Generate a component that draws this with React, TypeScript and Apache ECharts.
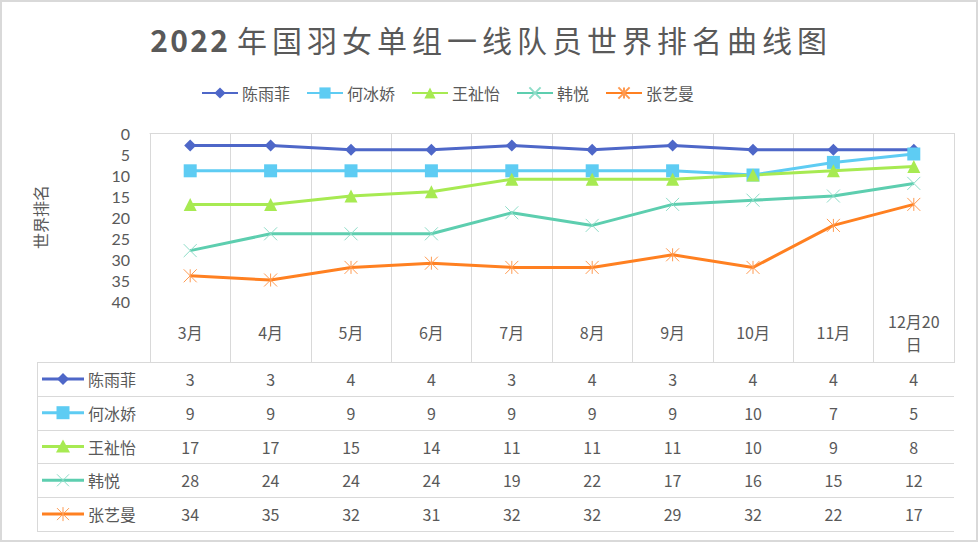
import React, { useEffect, useRef } from 'react';
import * as echarts from 'echarts';

const categories = ['3月', '4月', '5月', '6月', '7月', '8月', '9月', '10月', '11月', '12月20日'];
const seriesNames = ['陈雨菲', '何冰娇', '王祉怡', '韩悦', '张艺曼'];
const chenYufei = [3, 3, 4, 4, 3, 4, 3, 4, 4, 4];
const heBingjiao = [9, 9, 9, 9, 9, 9, 9, 10, 7, 5];
const wangZhiyi = [17, 17, 15, 14, 11, 11, 11, 10, 9, 8];
const hanYue = [28, 24, 24, 24, 19, 22, 17, 16, 15, 12];
const zhangYiman = [34, 35, 32, 31, 32, 32, 29, 32, 22, 17];
const yMin = 0;
const yMax = 40;
const yInterval = 5;
const titleText = '2022年国羽女单组一线队员世界排名曲线图';
const yAxisName = '世界排名';

const FONT = '"Noto Sans CJK SC", "Noto Sans", sans-serif';
const NUM_FONT = 'Lato, "Noto Sans", sans-serif';
const TEXT = '#595959';
const GRIDLINE = '#d9d9d9';

type Mk = 'diamond' | 'square' | 'triangle' | 'x' | 'star';
const styles: { color: string; mark: string; kind: Mk }[] = [
  { color: '#4E67C8', mark: '#4E67C8', kind: 'diamond' },
  { color: '#5ECCF3', mark: '#5ECCF3', kind: 'square' },
  { color: '#A7EA52', mark: '#A7EA52', kind: 'triangle' },
  { color: '#5DCEAF', mark: '#8EDDC8', kind: 'x' },
  { color: '#FF8021', mark: '#FF9A50', kind: 'star' },
];
const seriesData = [chenYufei, heBingjiao, wangZhiyi, hanYue, zhangYiman];

const GRID = { left: 150, top: 133, width: 804, height: 168 };
const TABLE_TOP = 362;
const ROW_H = 33.8;
const TABLE_LEFT = 37;

function symbolFor(kind: Mk) {
  switch (kind) {
    case 'diamond': return { symbol: 'diamond', symbolSize: 12 };
    case 'square': return { symbol: 'rect', symbolSize: 13 };
    case 'triangle': return { symbol: 'triangle', symbolSize: 13 };
    case 'x': return { symbol: 'path://M0,0L10,10M10,0L0,10', symbolSize: 13 };
    default: return { symbol: 'path://M0,0L10,10M10,0L0,10M5,0L5,10', symbolSize: 13 };
  }
}

function markerGraphic(kind: Mk, color: string, cx: number, cy: number) {
  const els: any[] = [];
  if (kind === 'diamond') {
    els.push({ type: 'polygon', shape: { points: [[cx - 6, cy], [cx, cy - 6], [cx + 6, cy], [cx, cy + 6]] }, style: { fill: color } });
  } else if (kind === 'square') {
    els.push({ type: 'rect', shape: { x: cx - 6.5, y: cy - 6.5, width: 13, height: 13 }, style: { fill: color } });
  } else if (kind === 'triangle') {
    els.push({ type: 'polygon', shape: { points: [[cx, cy - 7], [cx + 7, cy + 6], [cx - 7, cy + 6]] }, style: { fill: color } });
  } else {
    const r = 6;
    els.push({ type: 'line', shape: { x1: cx - r, y1: cy - r, x2: cx + r, y2: cy + r }, style: { stroke: color, lineWidth: 1 } });
    els.push({ type: 'line', shape: { x1: cx + r, y1: cy - r, x2: cx - r, y2: cy + r }, style: { stroke: color, lineWidth: 1 } });
    if (kind === 'star') {
      els.push({ type: 'line', shape: { x1: cx, y1: cy - r - 1, x2: cx, y2: cy + r + 1 }, style: { stroke: color, lineWidth: 1 } });
    }
  }
  return els;
}

export default function App() {
  const ref = useRef<HTMLDivElement>(null);
  useEffect(() => {
    if (!ref.current) return;
    const chart = echarts.init(ref.current, undefined, { renderer: 'svg' });
    const option: any = {
      animation: false,
      backgroundColor: '#ffffff',
      textStyle: { fontFamily: FONT },
      legend: {
        left: 201,
        top: 85,
        itemWidth: 36,
        itemHeight: 14,
        itemGap: 16,
        padding: 0,
        textStyle: { fontSize: 16, color: TEXT, fontFamily: FONT, padding: [0, 0, 0, -1] },
        data: seriesNames,
      },
      grid: { ...GRID },
      xAxis: {
        type: 'category',
        data: categories,
        boundaryGap: true,
        axisLine: { show: true, lineStyle: { color: GRIDLINE, width: 1 } },
        axisTick: { show: true, length: 230, interval: 0, lineStyle: { color: GRIDLINE, width: 1 } },
        splitLine: { show: true, interval: 0, lineStyle: { color: GRIDLINE, width: 1 } },
        axisLabel: {
          interval: 0,
          margin: 31,
          verticalAlign: 'middle',
          fontSize: 16,
          lineHeight: 23,
          color: TEXT,
          fontFamily: FONT,
          formatter: (v: string) => (v.length > 4 ? v.slice(0, 5) + '\n' + v.slice(5) : v),
        },
      },
      yAxis: {
        type: 'value',
        inverse: true,
        min: yMin,
        max: yMax,
        interval: yInterval,
        name: yAxisName,
        nameLocation: 'middle',
        nameRotate: 90,
        nameGap: 102,
        nameTextStyle: { fontSize: 16, color: TEXT, fontFamily: FONT },
        axisLine: { show: false },
        axisTick: { show: false },
        splitLine: { show: false },
        axisLabel: { margin: 20, fontSize: 16, lineHeight: 18, color: TEXT, fontFamily: NUM_FONT },
      },
      series: seriesNames.map((name, i) => ({
        name,
        type: 'line',
        data: seriesData[i],
        ...symbolFor(styles[i].kind),
        showAllSymbol: true,
        lineStyle: { color: styles[i].color, width: 3 },
        itemStyle: {
          color: styles[i].mark,
          borderColor: styles[i].mark,
          borderWidth: styles[i].kind === 'x' || styles[i].kind === 'star' ? 1 : 0,
        },
        emphasis: { disabled: true },
      })),
    };
    chart.setOption(option);

    const xs = categories.map((c) => chart.convertToPixel({ xAxisIndex: 0 }, c) as number);
    const right = GRID.left + GRID.width;
    const graphic: any[] = [];
    graphic.push({ type: 'rect', shape: { x: 1, y: 1, width: 976, height: 540 }, style: { fill: 'none', stroke: GRIDLINE, lineWidth: 2 }, silent: true });

    // title, char by char (wide letter spacing)
    let dx = 159;
    let cx = 252;
    titleText.split('').forEach((ch) => {
      const isDigit = /[0-9]/.test(ch);
      const x = isDigit ? dx : cx;
      if (isDigit) dx += 20; else cx += 35;
      graphic.push({
        type: 'text', x, y: 39,
        style: { text: ch, fill: TEXT, font: `${isDigit ? 'bold ' : ''}30px ${FONT}`, align: 'center', verticalAlign: 'middle' },
        silent: true,
      });
    });

    // table lines
    for (let r = 0; r <= seriesNames.length; r++) {
      const y = Math.round(TABLE_TOP + r * ROW_H) + 0.5;
      graphic.push({ type: 'line', shape: { x1: TABLE_LEFT, y1: y, x2: right, y2: y }, style: { stroke: GRIDLINE, lineWidth: 1 }, silent: true });
    }
    graphic.push({ type: 'line', shape: { x1: TABLE_LEFT + 0.5, y1: TABLE_TOP, x2: TABLE_LEFT + 0.5, y2: TABLE_TOP + ROW_H * 5 }, style: { stroke: GRIDLINE, lineWidth: 1 }, silent: true });

    seriesNames.forEach((name, r) => {
      const cy = TABLE_TOP + ROW_H * (r + 0.5);
      const st = styles[r];
      graphic.push({ type: 'line', shape: { x1: 42, y1: cy, x2: 84, y2: cy }, style: { stroke: st.color, lineWidth: 3 }, silent: true });
      markerGraphic(st.kind, st.mark, 63, cy).forEach((e) => graphic.push({ ...e, silent: true }));
      graphic.push({ type: 'text', x: 88, y: cy, style: { text: name, fill: TEXT, font: `16px ${FONT}`, align: 'left', verticalAlign: 'middle' }, silent: true });
      seriesData[r].forEach((v, i) => {
        graphic.push({ type: 'text', x: xs[i], y: cy, style: { text: String(v), fill: TEXT, font: `16px ${FONT}`, align: 'center', verticalAlign: 'middle' }, silent: true });
      });
    });

    chart.setOption({ graphic });
    return () => chart.dispose();
  }, []);
  return <div ref={ref} style={{ position: 'fixed', left: 0, top: 0, width: 978, height: 542 }} />;
}
